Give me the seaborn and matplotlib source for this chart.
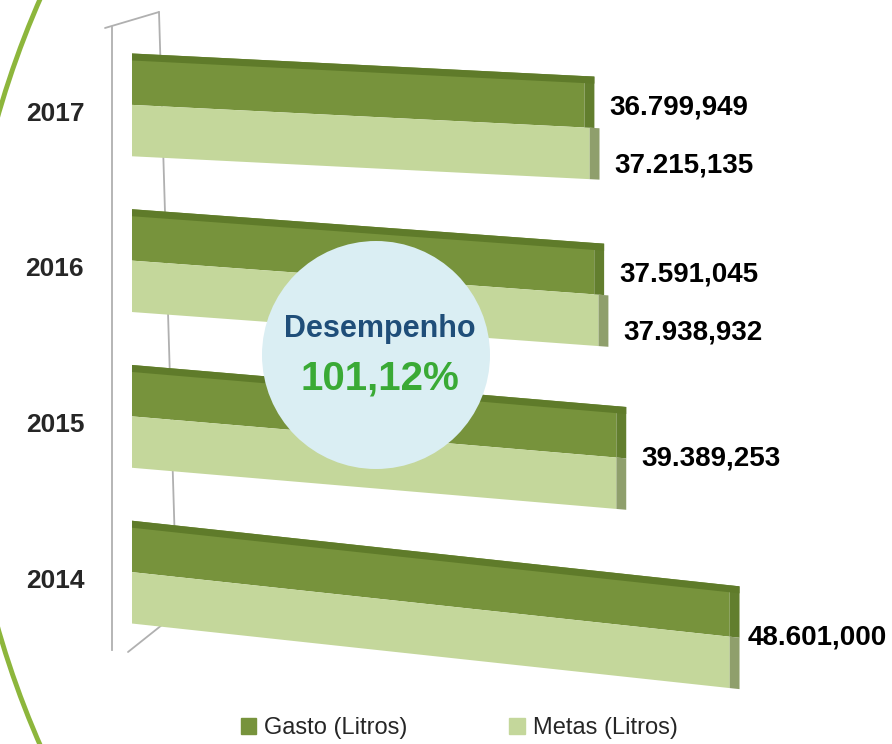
import math
import matplotlib
matplotlib.use("Agg")
import matplotlib.pyplot as plt
import matplotlib.patches as mpatches
from matplotlib.lines import Line2D
from matplotlib.transforms import Affine2D
import seaborn as sns
import pandas as pd

years = ["2017", "2016", "2015", "2014"]
gasto = [36799949, 37591045, 39389253, 48601000]
metas = [37215135, 37938932, 39389253, 48601000]
gasto_labels = ["36.799,949", "37.591,045", "39.389,253", "48.601,000"]
metas_labels = ["37.215,135", "37.938,932", "", ""]
series_names = ["Gasto (Litros)", "Metas (Litros)"]
desempenho_title = "Desempenho"
desempenho_value = "101,12%"

DARK = "#77933C"
LIGHT = "#C4D79B"
DARK_TOP = "#5F7B2A"
DARK_SIDE = "#627E2E"
LIGHT_SIDE = "#8F9F6C"

# perspective-like downward slope of each bar group (px down per px right)
slopes = [0.050, 0.073, 0.085, 0.108]
# horizontal gap (pt) between bar end and its value label
label_gap = [11, 11, 11, 6]

sns.set_theme(style="white")
FONT = ["Liberation Sans", "DejaVu Sans"]
plt.rcParams["font.family"] = FONT

df = pd.DataFrame({
    "Ano": years * 2,
    "Litros": gasto + metas,
    "Serie": [series_names[0]] * 4 + [series_names[1]] * 4,
})

W, H = 892, 744
fig = plt.figure(figsize=(W / 100, H / 100), dpi=100)
ax_left, ax_top, ax_bot = 132, 27, 650
ax = fig.add_axes([ax_left / W, (H - ax_bot) / H, 1 - ax_left / W, (ax_bot - ax_top) / H])
ax.patch.set_visible(False)

sns.barplot(data=df, y="Ano", x="Litros", hue="Serie", order=years,
            hue_order=series_names, palette=[DARK, LIGHT], orient="h",
            width=0.66, ax=ax, legend=False, saturation=1, linewidth=0)

ax.set_xlim(0, 61.8e6)
ax.set_ylim(len(years) - 0.5, -0.5)
ax.set_xlabel("")
ax.set_ylabel("")
ax.set_xticks([])
for s in ["top", "right", "bottom"]:
    ax.spines[s].set_visible(False)
ax.spines["left"].set_color("#B0B0B0")
ax.spines["left"].set_linewidth(1.3)
ax.spines["left"].set_position(("outward", 14.4))
ax.set_yticks([i + 0.04 for i in range(len(years))])
ax.set_yticklabels(years, fontsize=19, fontweight="bold", family=FONT)
ax.tick_params(axis="y", length=0, pad=20)
ax.set_yticks([i - 0.5 for i in range(len(years) + 1)], minor=True)
ax.tick_params(axis="y", which="minor", length=6, color="#B0B0B0", width=1.3)


def skew_for(group):
    px, py = ax.transData.transform((0, group))
    ang = math.atan(-slopes[group])
    return ax.transData + Affine2D().translate(-px, -py).skew(0, ang).translate(px, py)


ng = len(years)
side_w = 0.8e6
for i, bar in enumerate(list(ax.patches[:2 * ng])):
    g = i % ng
    is_gasto = i < ng
    tr = skew_for(g)
    bar.set_transform(tr)
    bar.set_clip_on(False)
    x = bar.get_width()
    y = bar.get_y()
    h = bar.get_height()
    side = mpatches.Rectangle((x, y), side_w, h, color=DARK_SIDE if is_gasto else LIGHT_SIDE,
                              lw=0, transform=tr, clip_on=False)
    ax.add_patch(side)
    if is_gasto:
        top = mpatches.Rectangle((0, y), x + side_w, 0.045, color=DARK_TOP, lw=0,
                                 transform=tr, clip_on=False)
        ax.add_patch(top)
    lbl = gasto_labels[g] if is_gasto else metas_labels[g]
    if not lbl:
        continue
    single = is_gasto and not metas_labels[g]
    ytxt = y + h if single else y + h / 2
    dy = 0 if single else (-4 if is_gasto else -8)
    ax.annotate(lbl, xy=(x + side_w, ytxt), xycoords=tr, xytext=(label_gap[g], dy),
                textcoords="offset points", ha="left", va="center", fontsize=20,
                fontweight="bold", color="black", family=FONT, annotation_clip=False)

# 3D back-wall outline (decorative)
wall = [((105, 28), (159, 12)), ((159, 12), (177, 613)), ((128, 652), (177, 613))]
for (x0, y0), (x1, y1) in wall:
    fig.add_artist(Line2D([x0 / W, x1 / W], [1 - y0 / H, 1 - y1 / H], transform=fig.transFigure,
                          color="#B0B0B0", lw=1.3, zorder=-1))

# Desempenho circle
circ = mpatches.Ellipse((376 / W, 1 - 355 / H), 228 / W, 228 / H,
                        transform=fig.transFigure, facecolor="#DAEEF3",
                        edgecolor="none", zorder=5)
fig.add_artist(circ)
fig.text(380 / W, 1 - 329 / H, desempenho_title, ha="center", va="center",
         fontsize=22, fontweight="bold", color="#1F4E79", family=FONT, zorder=6)
fig.text(380 / W, 1 - 378 / H, desempenho_value, ha="center", va="center",
         fontsize=29, fontweight="bold", color="#3AAA35", family=FONT, zorder=6)

# decorative arc
arc = mpatches.Ellipse((W / W, 372 / H), 2 * 930 / W, 2 * 930 / H,
                       transform=fig.transFigure, facecolor="none",
                       edgecolor="#8DB63C", linewidth=3.5, zorder=0)
fig.add_artist(arc)

handles = [mpatches.Patch(color=DARK), mpatches.Patch(color=LIGHT)]
fig.legend(handles, series_names, loc="center", bbox_to_anchor=(0.515, 16 / H),
           ncol=2, frameon=False, handlelength=0.65, handleheight=0.65,
           handletextpad=0.35, columnspacing=4.3, prop={"family": FONT, "size": 17})

fig.savefig("out.png", dpi=100)
